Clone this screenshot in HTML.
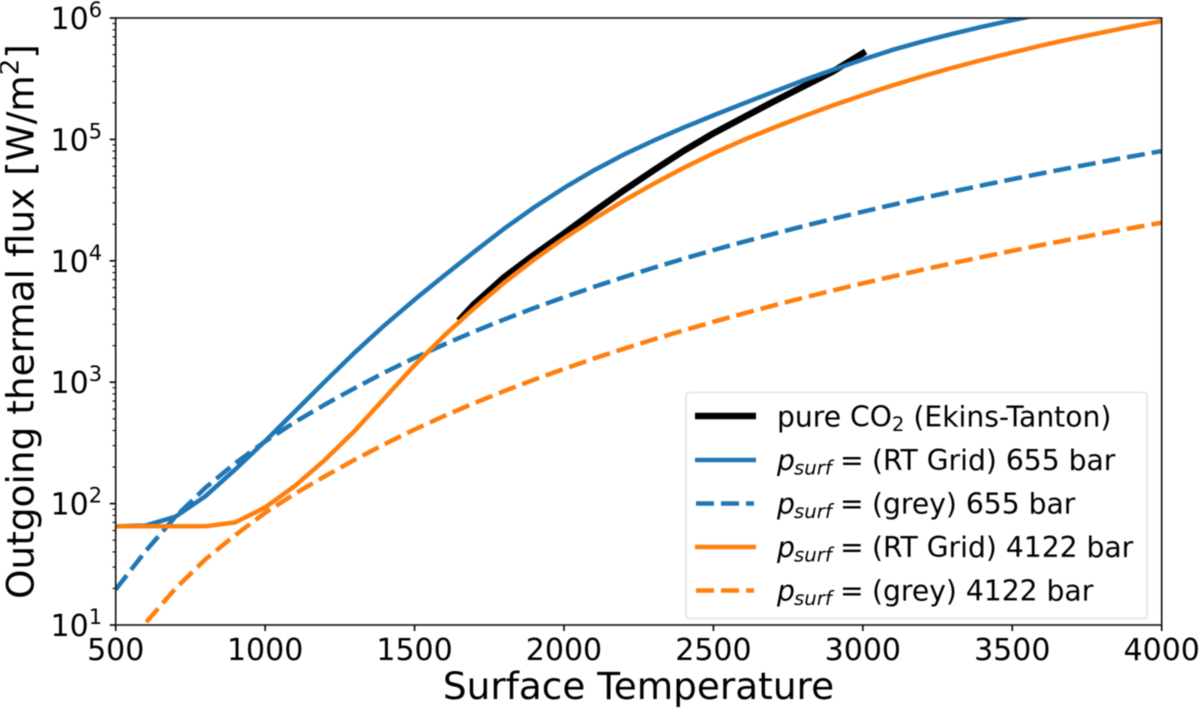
<!DOCTYPE html>
<html>
<head>
<meta charset="utf-8">
<style>
html,body{margin:0;padding:0;background:#fff;}
svg{display:block;filter:blur(0.4px);}
text{font-family:"DejaVu Sans","Liberation Sans",sans-serif;fill:#000;}
</style>
</head>
<body>
<svg id="chart" xmlns="http://www.w3.org/2000/svg" width="1200" height="710" viewBox="0 0 1200 710">
  <defs><clipPath id="plot-clip"><rect x="115.7" y="18" width="1046" height="607"/></clipPath></defs>
  <rect x="0" y="0" width="1200" height="710" fill="#fff"/>
  <g id="series" clip-path="url(#plot-clip)"></g>
  <g id="axes"></g>
  <text x="638.5" y="699" font-size="37.4" text-anchor="middle">Surface Temperature</text>
  <text transform="translate(33.5,321.5) rotate(-90)" font-size="37.4" text-anchor="middle">Outgoing thermal flux [W/m<tspan font-size="26" dy="-15">2</tspan><tspan dy="15">]</tspan></text>
  <g>
    <rect x="686" y="392.5" width="461" height="226" rx="3" ry="3" fill="#fff" fill-opacity="0.8" stroke="#e2e2e2" stroke-width="1.6"/>
    <g>
      <line x1="695" y1="416" x2="756" y2="416" stroke="#000" stroke-width="6.5"/>
      <text x="777" y="426.5" font-size="28.2">pure CO<tspan font-size="19.7" dy="4.5">2</tspan><tspan dy="-4.5"> (Ekins-Tanton)</tspan></text>
    </g>
    <g>
      <line x1="695" y1="460" x2="756" y2="460" stroke="#1f77b4" stroke-width="4.5"/>
      <text y="470" font-size="28.2"><tspan x="777" font-style="italic">p</tspan><tspan x="794" dy="4.5" font-size="19.7" font-style="italic">surf</tspan><tspan x="840" dy="-4.5">=</tspan><tspan x="872">(RT Grid) 655 bar</tspan></text>
    </g>
    <g>
      <line x1="696" y1="503.5" x2="754" y2="503.5" stroke="#1f77b4" stroke-width="4.5" stroke-dasharray="18 7"/>
      <text y="513.5" font-size="28.2"><tspan x="777" font-style="italic">p</tspan><tspan x="794" dy="4.5" font-size="19.7" font-style="italic">surf</tspan><tspan x="840" dy="-4.5">=</tspan><tspan x="872">(grey) 655 bar</tspan></text>
    </g>
    <g>
      <line x1="695" y1="547" x2="756" y2="547" stroke="#ff7f0e" stroke-width="4.5"/>
      <text y="557" font-size="28.2"><tspan x="777" font-style="italic">p</tspan><tspan x="794" dy="4.5" font-size="19.7" font-style="italic">surf</tspan><tspan x="840" dy="-4.5">=</tspan><tspan x="872">(RT Grid) 4122 bar</tspan></text>
    </g>
    <g>
      <line x1="696" y1="590.5" x2="754" y2="590.5" stroke="#ff7f0e" stroke-width="4.5" stroke-dasharray="18 7"/>
      <text y="600.5" font-size="28.2"><tspan x="777" font-style="italic">p</tspan><tspan x="794" dy="4.5" font-size="19.7" font-style="italic">surf</tspan><tspan x="840" dy="-4.5">=</tspan><tspan x="872">(grey) 4122 bar</tspan></text>
    </g>
  </g>
</svg>
<script>
var xTicks = [500, 1000, 1500, 2000, 2500, 3000, 3500, 4000];
var yExponents = [1, 2, 3, 4, 5, 6];
var minorMultiples = [2, 3, 4, 5, 6, 7, 8, 9];

var gridTemps = [500, 600, 700, 800, 900, 1000, 1100, 1200, 1300, 1400, 1500, 1600, 1700, 1800, 1900, 2000, 2100, 2200, 2300, 2400, 2500, 2600, 2700, 2800, 2900, 3000, 3100, 3200, 3300, 3400, 3500, 3600, 3700, 3800, 3900, 4000];
var co2Temps = [1655, 1700, 1800, 1900, 2000, 2100, 2200, 2300, 2400, 2500, 2600, 2700, 2800, 2900, 3000];

var co2Flux = [3357, 4416, 7328, 11220, 16788, 25410, 38019, 55590, 80353, 112202, 151356, 204174, 272270, 363078, 512861];
var rt655Flux = [65, 66, 78, 115, 191, 327, 575, 1012, 1758, 2951, 4786, 7586, 11885, 18408, 27542, 39811, 55590, 74989, 97724, 125026, 157761, 197242, 246037, 305492, 374973, 454988, 547016, 641210, 741310, 847228, 959401, 1078947, 1202264, 1333521, 1462177, 1584893];
var grey655Flux = [19.6, 40.6, 78, 135, 215, 325, 470, 655, 895, 1204, 1586, 2053, 2617, 3289, 4083, 5013, 6093, 7339, 8767, 10395, 12238, 14317, 16650, 19257, 22159, 25377, 28934, 32852, 37155, 41867, 47014, 52622, 58717, 65327, 72480, 80205];
var rt4122Flux = [65, 65, 65, 65, 70, 93, 140, 229, 398, 741, 1380, 2427, 4074, 6607, 10233, 15311, 22131, 31261, 43152, 58210, 76736, 98855, 124451, 154882, 190546, 231739, 278612, 331131, 389045, 451856, 518800, 595662, 676083, 758578, 851138, 944061];
var grey4122Flux = [5, 10.4, 20, 34.7, 55, 84, 121, 168, 230, 309, 408, 528, 673, 845, 1049, 1288, 1566, 1886, 2253, 2671, 3145, 3679, 4279, 4949, 5695, 6522, 7436, 8443, 9549, 10760, 12083, 13524, 15090, 16789, 18627, 20613];

var SVG_NS = 'http://www.w3.org/2000/svg';
function xScale(t) { return 115.7 + (t - 500) * (1046 / 3500); }
function yScale(v) { return 18 + (6 - Math.log10(v)) * (607 / 5); }
function make(tag, attrs) {
  var el = document.createElementNS(SVG_NS, tag);
  for (var k in attrs) { el.setAttribute(k, attrs[k]); }
  return el;
}
var seriesGroup = document.getElementById('series');
var axesGroup = document.getElementById('axes');

function drawSeries(name, temps, flux, color, width, dashed) {
  var pts = temps.map(function (t, i) { return xScale(t).toFixed(2) + ',' + yScale(flux[i]).toFixed(2); }).join(' ');
  var el = make('polyline', { points: pts, fill: 'none', stroke: color, 'stroke-width': width, 'stroke-linejoin': 'round', 'stroke-linecap': dashed ? 'butt' : 'square' });
  if (dashed) { el.setAttribute('stroke-dasharray', '18 7'); }
  
  
  seriesGroup.appendChild(el);
}
drawSeries('series-pure-co2', co2Temps, co2Flux, '#000', 6.5, false);
drawSeries('series-rt-655', gridTemps, rt655Flux, '#1f77b4', 4.5, false);
drawSeries('series-grey-655', gridTemps, grey655Flux, '#1f77b4', 4.5, true);
drawSeries('series-rt-4122', gridTemps, rt4122Flux, '#ff7f0e', 4.5, false);
drawSeries('series-grey-4122', gridTemps, grey4122Flux, '#ff7f0e', 4.5, true);

xTicks.forEach(function (t) {
  var x = xScale(t);
  var tick = make('line', { x1: x, x2: x, y1: 625, y2: 631, stroke: '#000', 'stroke-width': 1.6 });
  
  
  axesGroup.appendChild(tick);
  var label = make('text', { x: x, y: 660, 'font-size': 30, 'text-anchor': 'middle' });
  label.textContent = String(t);
  
  
  axesGroup.appendChild(label);
});

yExponents.forEach(function (e, idx) {
  var y = yScale(Math.pow(10, e));
  var tick = make('line', { x1: 109.7, x2: 115.7, y1: y, y2: y, stroke: '#000', 'stroke-width': 1.6 });
  
  
  axesGroup.appendChild(tick);
  var label = make('text', { x: 50.5, y: y + 11, 'font-size': 30 });
  label.textContent = '10';
  var sup = make('tspan', { 'font-size': 21, dy: -12 });
  sup.textContent = String(e);
  label.appendChild(sup);
  
  
  axesGroup.appendChild(label);
  if (idx < yExponents.length - 1) {
    minorMultiples.forEach(function (m) {
      var my = yScale(m * Math.pow(10, e));
      var minor = make('line', { x1: 112.5, x2: 115.7, y1: my, y2: my, stroke: '#000', 'stroke-width': 1.1 });
      
      
      axesGroup.appendChild(minor);
    });
  }
});

var frame = make('rect', { x: 115.7, y: 18, width: 1046, height: 607, fill: 'none', stroke: '#111', 'stroke-width': 1.6 });


axesGroup.appendChild(frame);
</script>
</body>
</html>
